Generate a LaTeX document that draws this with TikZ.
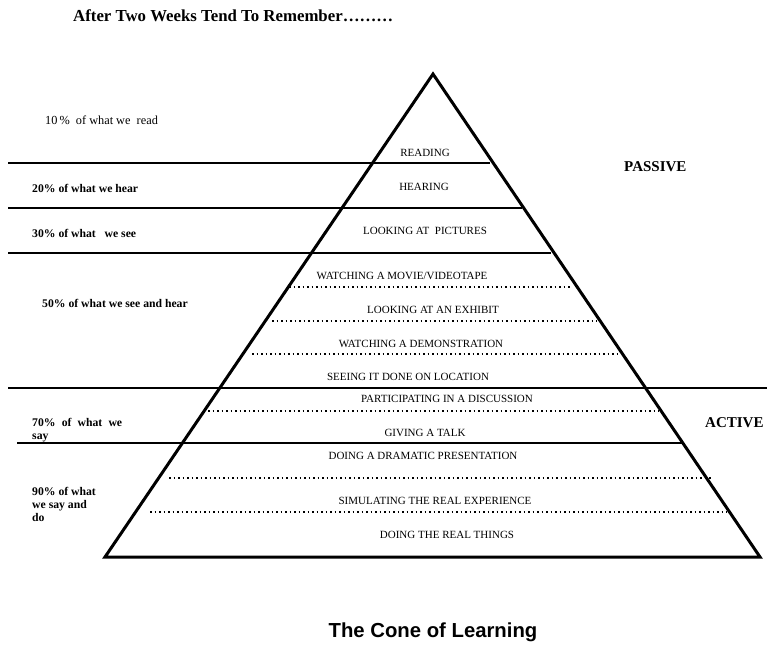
\documentclass[tikz,border=0pt]{standalone}
\usepackage{fontspec}
\setmainfont{Liberation Serif}
\setsansfont{Liberation Sans}
\usetikzlibrary{positioning, calc}

\begin{document}
\begin{tikzpicture}[x=1pt,y=-1pt,
    cone/.style={line width=3pt, line join=miter},
    band/.style={line width=2.5pt},
    tier/.style={line width=1.6pt, dash pattern=on 1.6pt off 2.9pt},
    level/.style={font=\fontsize{11}{12.5}\selectfont, inner sep=0pt},
    share/.style={font=\bfseries\fontsize{11.7}{13}\selectfont, anchor=west, inner sep=0pt},
    side/.style={font=\bfseries\fontsize{15}{17}\selectfont, anchor=west, inner sep=0pt}]

            \useasboundingbox (0,0) rectangle (767,646);

            % heading and caption
            \node[anchor=west, inner sep=0pt, font=\bfseries\fontsize{16.8}{19}\selectfont] (head) at (73,16) {After Two Weeks Tend To Remember………};
            \node[inner sep=0pt, font=\sffamily\bfseries\fontsize{20.3}{23}\selectfont] (caption) at (433,632) {The Cone of Learning};

            % the cone
            \coordinate (apex) at (433,74);
            \coordinate (bl) at (105,557);
            \coordinate (br) at (760,557);
            \draw[cone] (apex) -- (bl) -- (br) -- cycle;

            % solid bands
            \foreach \y/\xa/\xb [count=\i] in {163/8/490, 208/8/522, 253/8/551, 388/8/767, 443/17/683} {
                \coordinate (bandl\i) at (\xa,\y);
                \coordinate (bandr\i) at (\xb,\y);
                \draw[band] (bandl\i) -- (bandr\i);
            }

            % dotted tiers
            \foreach \y/\xa/\xb [count=\i] in {287/289/570, 321/272/597, 354/252/621, 411/208/659, 478/169/713, 512/150/727} {
                \coordinate (tierl\i) at (\xa,\y);
                \coordinate (tierr\i) at (\xb,\y);
                \draw[tier] (tierl\i) -- (tierr\i);
            }

            % levels of the cone
            \node[level] (reading) at (425,153) {READING};
            \node[level] (hearing) at (424,187) {HEARING};
            \node[level] (pictures) at (425,231) {LOOKING AT\ \ PICTURES};
            \node[level] (movie) at (402,276) {WATCHING A MOVIE/VIDEOTAPE};
            \node[level] (exhibit) at (433,310) {LOOKING AT AN EXHIBIT};
            \node[level] (demo) at (421,344) {WATCHING A DEMONSTRATION};
            \node[level] (location) at (408,377) {SEEING IT DONE ON LOCATION};
            \node[level] (discussion) at (447,399) {PARTICIPATING IN A DISCUSSION};
            \node[level] (talk) at (425,433) {GIVING A TALK};
            \node[level] (drama) at (423,456) {DOING A DRAMATIC PRESENTATION};
            \node[level] (simulate) at (435,501) {SIMULATING THE REAL EXPERIENCE};
            \node[level] (real) at (447,535) {DOING THE REAL THINGS};

            % what is remembered
            \node[share, font=\fontsize{12.3}{13}\selectfont] (ten) at (45,120) {10\,\%\ \ of what we\ \ read};
            \node[share] (twenty) at (32,188) {20\% of what we hear};
            \node[share] (thirty) at (32,233) {30\% of what\ \ \ we see};
            \node[share] (fifty) at (42,303) {50\% of what we see and hear};
            \node[share, text width=90pt, align=justify] (seventy) at (32,430) {70\% of what we\linebreak say};
            \node[share, align=left] (ninety) at (32,504) {90\% of what\\we say and\\do};

            % passive and active
            \node[side] (passive) at (624,167) {PASSIVE};
            \node[side] (active) at (705,423) {ACTIVE};

\end{tikzpicture}
\end{document}
